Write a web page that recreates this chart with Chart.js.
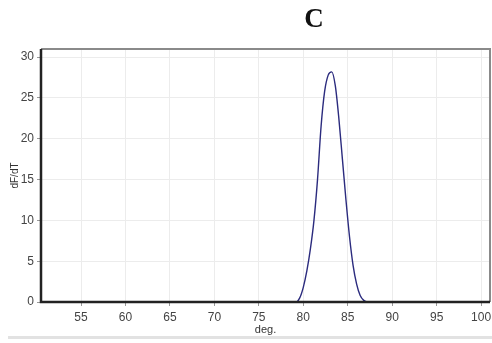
<!DOCTYPE html>
<html>
<head>
<meta charset="utf-8">
<script src="https://cdn.jsdelivr.net/npm/chart.js@4"></script>
<style>
  html, body { margin: 0; padding: 0; background: #fff; }
  #wrap { position: relative; width: 492px; height: 343px; }
  #title {
    position: absolute; left: 294px; top: 3px; width: 40px; text-align: center;
    font-family: 'Liberation Serif', 'DejaVu Serif', serif; font-weight: bold;
    font-size: 27px; color: #111;
  }
  #foot { position: absolute; left: 8px; right: 0; top: 336px; height: 3px; background: #e2e2e2; }
</style>
</head>
<body>
<div id="wrap">
  <canvas id="c" width="492" height="343"></canvas>
  <div id="title">C</div>
  <div id="foot"></div>
</div>
<script>
  // 온도(deg.)에 따른 dF/dT 값
  var TEMPS = [50.5, 79.0, 79.2, 79.6, 80.0, 80.4, 80.8, 81.2, 81.6, 82.0, 82.4, 82.8, 83.2,
               83.6, 84.0, 84.4, 84.8, 85.2, 85.6, 86.0, 86.4, 86.8, 87.2, 101];
  var DFDT  = [0, 0, 0, 0.5, 1.8, 3.8, 6.5, 10, 15, 21.5, 25.8, 27.8, 28.2,
               26.5, 22.5, 17.5, 12.5, 8, 4.5, 2.2, 0.8, 0.2, 0, 0];
  var X_TICKS = [55, 60, 65, 70, 75, 80, 85, 90, 95, 100];
  var Y_TICKS = [0, 5, 10, 15, 20, 25, 30];

  var points = TEMPS.map(function (t, i) { return { x: t, y: DFDT[i] }; });

  // 테두리: 왼쪽/아래는 진하게, 위/오른쪽은 회색
  var frame = {
    id: 'frame',
    afterDraw: function (chart) {
      var a = chart.chartArea, ctx = chart.ctx;
      ctx.save();
      ctx.strokeStyle = '#8a8a8a';
      ctx.lineWidth = 2;
      ctx.beginPath();
      ctx.moveTo(a.left, a.top); ctx.lineTo(a.right, a.top); ctx.lineTo(a.right, a.bottom);
      ctx.stroke();
      ctx.strokeStyle = '#222';
      ctx.lineWidth = 2.5;
      ctx.beginPath();
      ctx.moveTo(a.left, a.top); ctx.lineTo(a.left, a.bottom); ctx.lineTo(a.right, a.bottom);
      ctx.stroke();
      ctx.restore();
    }
  };

  new Chart(document.getElementById('c'), {
    type: 'line',
    data: {
      datasets: [{
        data: points,
        borderColor: '#2b2b7e',
        borderWidth: 1.4,
        pointRadius: 0,
        fill: false,
        tension: 0.4,
        cubicInterpolationMode: 'monotone'
      }]
    },
    options: {
      responsive: false,
      animation: false,
      layout: { padding: { top: 49, right: 2, left: 0, bottom: 0 } },
      plugins: { legend: { display: false }, tooltip: { enabled: false } },
      scales: {
        x: {
          type: 'linear',
          min: 50.5,
          max: 101,
          afterBuildTicks: function (s) { s.ticks = X_TICKS.map(function (v) { return { value: v }; }); },
          afterFit: function (s) { s.height = 41; s.paddingLeft = 0; s.paddingRight = 0; },
          border: { display: false },
          grid: { color: '#ececec', tickColor: '#999', tickLength: 4 },
          ticks: { color: '#444', padding: 4, maxRotation: 0, font: { family: 'Liberation Sans', size: 12 } },
          title: {
            display: true, text: 'deg.', color: '#333',
            padding: { top: 0, bottom: 6 },
            font: { family: 'Liberation Sans', size: 11 }
          }
        },
        y: {
          min: 0,
          max: 31,
          afterBuildTicks: function (s) { s.ticks = Y_TICKS.map(function (v) { return { value: v }; }); },
          afterFit: function (s) { s.width = 41; },
          border: { display: false },
          grid: { color: '#ececec', tickColor: '#999', tickLength: 4 },
          ticks: { color: '#444', padding: 3, font: { family: 'Liberation Sans', size: 12 } },
          title: {
            display: true, text: 'dF/dT', color: '#333',
            padding: { top: 9, bottom: 0 },
            font: { family: 'Liberation Sans', size: 10 }
          }
        }
      }
    },
    plugins: [frame]
  });
</script>
</body>
</html>
